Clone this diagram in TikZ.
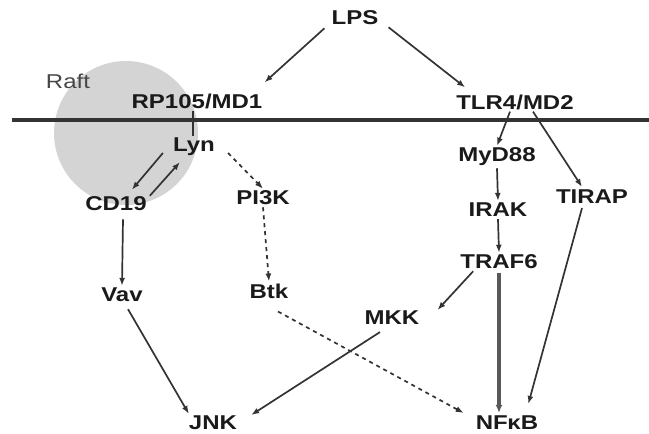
\documentclass[tikz,border=0pt]{standalone}
\usepackage{fontspec}
\newfontfamily\lab[FakeStretch=1.2]{Liberation Sans}
\usetikzlibrary{arrows.meta,calc}
\definecolor{ink}{HTML}{1A1A1A}
\definecolor{wire}{HTML}{333333}
\definecolor{raftgray}{HTML}{D4D4D4}
\begin{document}
\begin{tikzpicture}[x=1pt,y=-1pt,
  lbl/.style={inner sep=2pt,text=ink,font=\lab\bfseries\fontsize{20}{22}\selectfont},
  arr/.style={draw=wire,line width=1.7pt,-{Latex[length=8pt,width=6pt]}},
  darr/.style={arr,dash pattern=on 4pt off 4pt},
  thickarr/.style={draw=gray!70!black,line width=3.2pt,-{Latex[length=8pt,width=7pt]}}]
\useasboundingbox (0,0) rectangle (649,434);
% raft
\fill[raftgray] (126,133) circle (72);
\node[text=gray!55!black,font=\lab\fontsize{20}{22}\selectfont,inner sep=0pt] (raft) at (68,81) {Raft};
% membrane
\draw[line width=4pt,draw=wire] (12,120) -- (649,120);
% nodes
\node[lbl] (LPS) at (355,18) {LPS};
\node[lbl] (RP) at (197,101) {RP105/MD1};
\node[lbl] (TLR) at (515,102) {TLR4/MD2};
\node[lbl] (Lyn) at (194,147) {Lyn};
\node[lbl] (CD19) at (116,204) {CD19};
\node[lbl] (PI3K) at (263,198) {PI3K};
\node[lbl] (MyD) at (497,157) {MyD88};
\node[lbl] (TIRAP) at (592,197) {TIRAP};
\node[lbl] (IRAK) at (498,210) {IRAK};
\node[lbl] (TRAF) at (499,262) {TRAF6};
\node[lbl] (MKK) at (392,318) {MKK};
\node[lbl] (NFkB) at (507,423) {NF\kern-0.5pt κB};
\node[lbl] (Btk) at (269,291) {Btk};
\node[lbl] (Vav) at (122,295) {Vav};
\node[lbl] (JNK) at (213,423) {JNK};
% connectors
\draw[arr] ($(LPS.south west)+(-5,1)$) -- ($(RP.north east)+(0,-9)$);
\draw[arr] ($(LPS.south east)+(8,0)$) -- ($(TLR.north west)+(11,-5)$);
\draw[draw=wire,line width=2.2pt] ($(RP.south)+(-4,0)$) -- ($(Lyn.north)+(-1,0)$);
\draw[arr] ($(Lyn.west)+(-8,6)$) -- ($(CD19.north east)+(-17,-5)$);
\draw[arr] ($(CD19.north east)+(1,1)$) -- ($(Lyn.south west)+(9,4)$);
\draw[darr] ($(Lyn.east)+(11,6)$) -- (PI3K.north);
\draw[darr] (PI3K.south) -- (Btk.north);
\draw[arr] ($(CD19.south)+(7,6)$) -- (Vav.north);
\draw[arr] ($(Vav.south)+(6,5)$) -- ($(JNK.north west)+(2,0)$);
\draw[arr] ($(MKK.south)+(-12,5)$) -- ($(JNK.east)+(12,-8)$);
\draw[darr] ($(Btk.south)+(9,11)$) -- ($(NFkB.west)+(-10,-10)$);
\draw[arr] ($(TLR.south)+(-5,0)$) -- (MyD.north);
\draw[arr] ($(TLR.south)+(18,0)$) -- ($(TIRAP.north)+(-10,-1)$);
\draw[arr] (MyD.south) -- (IRAK.north);
\draw[arr] (IRAK.south) -- (TRAF.north);
\draw[arr] ($(TRAF.south west)+(15,0)$) -- ($(MKK.north east)+(16,1)$);
\draw[thickarr] ($(TRAF.south)+(0,2)$) -- ($(TRAF.south |- NFkB.north)+(0,-1)$);
\draw[arr] ($(TIRAP.south)+(-10,2)$) -- ($(NFkB.north east)+(-12,-10)$);
\end{tikzpicture}
\end{document}
